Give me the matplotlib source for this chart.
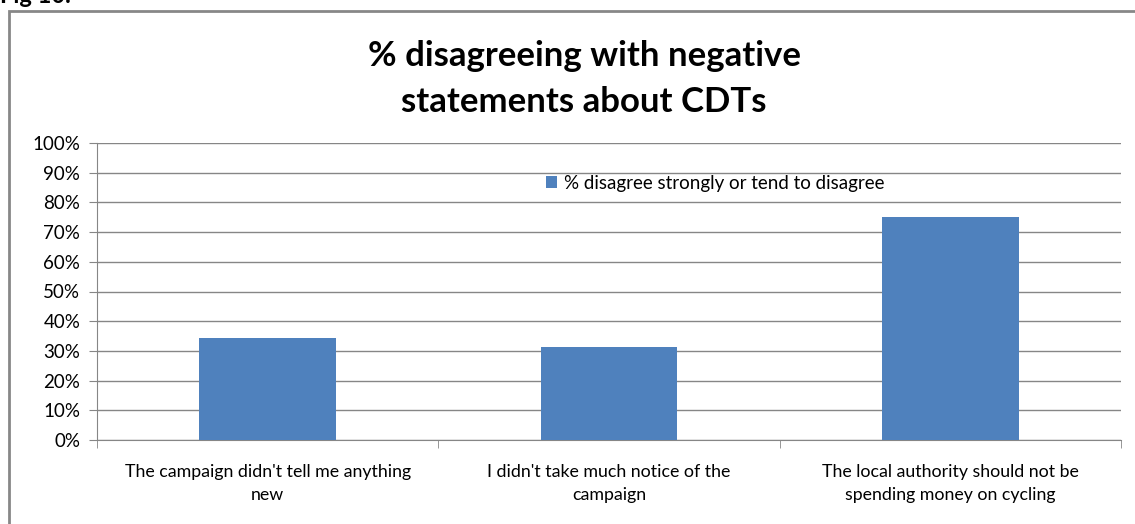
import matplotlib.pyplot as plt
from matplotlib.patches import Rectangle
from matplotlib.ticker import FixedLocator, PercentFormatter

# data
categories = [
    "The campaign didn't tell me anything\nnew",
    "I didn't take much notice of the\ncampaign",
    "The local authority should not be\nspending money on cycling",
]
values = [34.3, 31.3, 75.1]
series_name = "% disagree strongly or tend to disagree"
title = "% disagreeing with negative\nstatements about CDTs"

BAR = "#4F81BD"
GRID = "#868686"
FONT = ["Lato", "DejaVu Sans"]

W, H = 1135, 524
fig = plt.figure(figsize=(W / 100, H / 100), dpi=100)
plt.rcParams["font.family"] = FONT

# outer chart frame (runs off the right/bottom edge)
fig.patches.append(Rectangle((9 / W, -0.05), 1.2, 1 - 11 / H + 0.05,
                             transform=fig.transFigure, fill=False,
                             edgecolor="#878787", linewidth=2))
# caption sits mostly above the visible area, as in the scan
fig.text(0, 1 - 3 / H, "Fig 10.", fontsize=17, fontweight="bold",
         va="baseline", ha="left")

ax = fig.add_axes([97 / W, (H - 440) / H, (1121 - 97) / W, (440 - 143) / H])

xs = list(range(len(categories)))
ax.bar(xs, values, width=0.4, color=BAR, label=series_name, zorder=3)

ax.set_xlim(-0.5, len(categories) - 0.5)
ax.set_ylim(0, 100)
ax.set_yticks(range(0, 101, 10))
ax.yaxis.set_major_formatter(PercentFormatter(decimals=0))
ax.grid(axis="y", color=GRID, linewidth=1, zorder=0)

ax.set_xticks(xs)
ax.set_xticklabels(categories, fontsize=12.8, linespacing=1.55)
ax.xaxis.set_minor_locator(FixedLocator([-0.5, 0.5, 1.5, 2.5]))
ax.tick_params(axis="x", which="major", length=0, pad=17)
ax.tick_params(axis="x", which="minor", length=6, color=GRID)
ax.tick_params(axis="y", length=6, color=GRID, labelsize=13.5, pad=6)

for side in ("top", "right"):
    ax.spines[side].set_visible(False)
ax.spines["left"].set_color(GRID)
ax.spines["bottom"].set_color(GRID)

fig.text(584 / W, 1 - 79 / H, title, fontsize=25, fontweight="bold",
         ha="center", va="center", linespacing=1.5)

ax.legend(loc="center left", bbox_to_anchor=(0.431, 0.865), frameon=False,
          fontsize=13.5, handlelength=0.6, handleheight=0.6, handletextpad=0.35,
          borderaxespad=0)

fig.savefig("out.png", dpi=100)
